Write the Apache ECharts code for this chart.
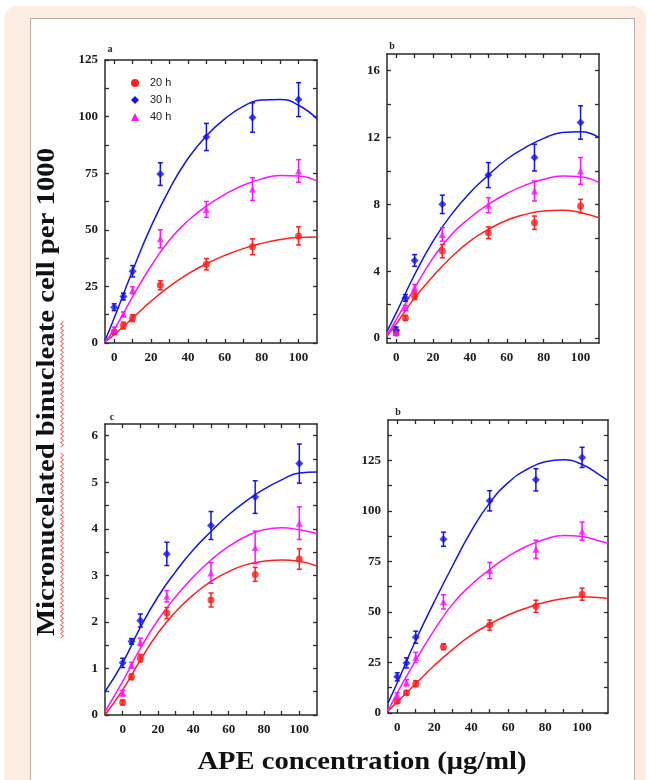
<!DOCTYPE html>
<html>
<head>
<meta charset="utf-8">
<script src="https://cdn.jsdelivr.net/npm/echarts@6/dist/echarts.min.js"></script>
<style>
  html, body { margin: 0; padding: 0; background: #fff; }
  #frame { position: absolute; left: 4px; top: 6px; width: 642px; height: 800px; background: #fcece2; border-radius: 14px; }
  #card { position: absolute; left: 30px; top: 18px; width: 603px; height: 800px; background: #fff; border: 1px solid #b8aea6; }
  #chart { position: absolute; left: 0; top: 0; width: 649px; height: 780px; }
</style>
</head>
<body>
<div id="frame"></div>
<div id="card"></div>
<div id="chart"></div>
<script>
const doses = [0, 5, 10, 25, 50, 75, 100];
const seriesNames = ['20 h', '30 h', '40 h'];
const xTickValues = [0, 10, 20, 30, 40, 50, 60, 70, 80, 90, 100];
const xLabelValues = [0, 20, 40, 60, 80, 100];

// panel a
const aMean20 = [4.9, 7.7, 11, 25.5, 34.8, 42.5, 47.3];
const aMean30 = [15.8, 20.5, 31.7, 74.6, 91, 99.6, 107.5];
const aMean40 = [6, 12.7, 23.3, 46, 59, 68, 76];
const aErr20 = [1, 1.5, 1.5, 2, 2.5, 3.5, 4];
const aErr30 = [1.5, 1.5, 2.5, 5, 6, 6.5, 7.5];
const aErr40 = [1, 1, 1.5, 4, 3.5, 5, 5];
const aFitX = [-5, 0, 10, 20, 30, 40, 50, 60, 70, 80, 90, 100, 110];
const aFit20 = [0.5, 3.7, 11, 18.5, 25, 30.5, 35, 38.7, 41.7, 44, 45.7, 46.6, 46.8];
const aFit30 = [1, 11, 32, 51.5, 68, 81.5, 91.5, 99, 104.5, 107.3, 107.6, 105, 99];
const aFit40 = [0.5, 6, 20.5, 34, 45.5, 54, 60.5, 65.6, 69.7, 72.5, 74, 73.8, 71.5];
const aYLabels = [0, 25, 50, 75, 100, 125];
const aYTicks = [0, 12.5, 25, 37.5, 50, 62.5, 75, 87.5, 100, 112.5, 125];

// panel b
const bMean20 = [0.3, 1.2, 2.5, 5.2, 6.3, 6.9, 7.9];
const bMean30 = [0.46, 2.4, 4.64, 8.0, 9.75, 10.8, 12.9];
const bMean40 = [0.35, 1.8, 3.0, 6.2, 7.95, 8.8, 10.0];
const bErr20 = [0.15, 0.15, 0.2, 0.4, 0.35, 0.4, 0.4];
const bErr30 = [0.2, 0.2, 0.35, 0.55, 0.75, 0.8, 1.0];
const bErr40 = [0.15, 0.15, 0.2, 0.4, 0.45, 0.6, 0.8];
const bFitX = [-5, 0, 10, 20, 30, 40, 50, 60, 70, 80, 90, 100, 110];
const bFit20 = [0.1, 0.85, 2.4, 3.7, 4.85, 5.8, 6.5, 7.05, 7.4, 7.6, 7.65, 7.5, 7.2];
const bFit30 = [0.4, 1.5, 3.8, 5.8, 7.4, 8.7, 9.75, 10.7, 11.4, 11.95, 12.3, 12.35, 12.0];
const bFit40 = [0.15, 1.1, 3.0, 4.8, 6.2, 7.2, 8.0, 8.65, 9.15, 9.5, 9.7, 9.65, 9.3];
const bYLabels = [0, 4, 8, 12, 16];
const bYTicks = [0, 2, 4, 6, 8, 10, 12, 14, 16];

// panel c
const cMean20 = [0.27, 0.82, 1.22, 2.19, 2.47, 3.02, 3.35];
const cMean30 = [1.12, 1.58, 2.03, 3.46, 4.07, 4.68, 5.4];
const cMean40 = [0.47, 1.07, 1.57, 2.55, 3.05, 3.6, 4.12];
const cErr20 = [0.05, 0.06, 0.08, 0.12, 0.15, 0.15, 0.22];
const cErr30 = [0.1, 0.06, 0.14, 0.25, 0.3, 0.35, 0.42];
const cErr40 = [0.06, 0.06, 0.08, 0.12, 0.22, 0.35, 0.35];
const cFitX = [-10, 0, 10, 20, 30, 40, 50, 60, 70, 80, 90, 100, 110];
const cFit20 = [0.0, 0.54, 1.18, 1.76, 2.22, 2.58, 2.87, 3.08, 3.23, 3.3, 3.33, 3.3, 3.2];
const cFit30 = [0.5, 1.12, 1.88, 2.54, 3.08, 3.55, 3.94, 4.3, 4.6, 4.85, 5.05, 5.2, 5.22];
const cFit40 = [0.07, 0.72, 1.43, 2.04, 2.54, 2.97, 3.33, 3.62, 3.84, 3.98, 4.02, 3.98, 3.9];
const cYLabels = [0, 1, 2, 3, 4, 5, 6];
const cYTicks = [0, 0.5, 1, 1.5, 2, 2.5, 3, 3.5, 4, 4.5, 5, 5.5, 6];

// panel d
const dMean20 = [5.8, 10, 14.5, 32.8, 43.5, 52.8, 58.8];
const dMean30 = [17.9, 24.8, 37.5, 86, 105, 115.4, 126.5];
const dMean40 = [8.5, 15, 27.5, 55, 70.5, 81, 90];
const dErr20 = [1, 1, 1.5, 1.5, 2.5, 3, 3];
const dErr30 = [2, 2.5, 3, 3.5, 5, 5.5, 5];
const dErr40 = [1.5, 1.5, 2.5, 3.5, 4, 4.5, 4.5];
const dFitX = [-5, 0, 10, 20, 30, 40, 50, 60, 70, 80, 90, 100, 110, 114];
const dFit20 = [1, 5.5, 14.5, 23.5, 31.5, 38.5, 44, 48.5, 52, 54.8, 56.6, 57.5, 57, 56.6];
const dFit30 = [5, 15, 36, 55, 73, 90, 104, 114, 120.5, 124.3, 125.3, 123, 117.5, 115];
const dFit40 = [1, 10, 26, 41, 54, 63.5, 71, 77.5, 82.5, 86, 87.8, 87.3, 85, 84];
const dYLabels = [0, 25, 50, 75, 100, 125];
const dYTicks = [0, 12.5, 25, 37.5, 50, 62.5, 75, 87.5, 100, 112.5, 125, 137.5];

const colors = ['#ff1f1f', '#1414e6', '#ff14ff'];
const symbols = ['circle', 'diamond', 'triangle'];
const symbolSizes = [7, 8, 7];
const labelFont = 'Liberation Serif';
const axisColor = '#2a2a2a';

const panels = [
  { label: 'a', labelPos: [110, 49], grid: { left: 105, top: 60, width: 212, height: 283 },
    xMin: -5, xMax: 110, yMin: 0, yMax: 125, yLabels: aYLabels, yTicks: aYTicks, fitX: aFitX,
    means: [aMean20, aMean30, aMean40], errs: [aErr20, aErr30, aErr40], fits: [aFit20, aFit30, aFit40] },
  { label: 'b', labelPos: [392, 46], grid: { left: 387, top: 54, width: 212, height: 289 },
    xMin: -5, xMax: 110, yMin: -0.3, yMax: 17, yLabels: bYLabels, yTicks: bYTicks, fitX: bFitX,
    means: [bMean20, bMean30, bMean40], errs: [bErr20, bErr30, bErr40], fits: [bFit20, bFit30, bFit40] },
  { label: 'c', labelPos: [112, 417], grid: { left: 105, top: 424, width: 212, height: 291 },
    xMin: -10, xMax: 110, yMin: 0, yMax: 6.25, yLabels: cYLabels, yTicks: cYTicks, fitX: cFitX,
    means: [cMean20, cMean30, cMean40], errs: [cErr20, cErr30, cErr40], fits: [cFit20, cFit30, cFit40] },
  { label: 'b', labelPos: [398, 412], grid: { left: 388, top: 420, width: 220, height: 293 },
    xMin: -5, xMax: 114, yMin: 0, yMax: 145, yLabels: dYLabels, yTicks: dYTicks, fitX: dFitX,
    means: [dMean20, dMean30, dMean40], errs: [dErr20, dErr30, dErr40], fits: [dFit20, dFit30, dFit40] }
];

function makeAxis(p, idx, dim, position, withLabels) {
  const isX = dim === 'x';
  return {
    type: 'value',
    gridIndex: idx,
    position,
    min: isX ? p.xMin : p.yMin,
    max: isX ? p.xMax : p.yMax,
    axisLine: { show: true, onZero: false, lineStyle: { color: axisColor, width: 1.5 } },
    axisTick: { show: true, inside: true, length: 4, customValues: isX ? xTickValues : p.yTicks,
      lineStyle: { color: axisColor, width: 1.3 } },
    axisLabel: {
      show: withLabels,
      customValues: isX ? xLabelValues : p.yLabels,
      color: '#1a1a1a',
      fontFamily: labelFont,
      fontWeight: 'bold',
      fontSize: 13,
      margin: isX ? 8 : 7
    },
    splitLine: { show: false }
  };
}

function renderErrorBar(params, api) {
  const x = api.value(0);
  const y = api.value(1);
  const e = api.value(2);
  const hi = api.coord([x, y + e]);
  const lo = api.coord([x, y - e]);
  const w = 2.5;
  const style = { stroke: api.visual('color'), lineWidth: 1.5 };
  return {
    type: 'group',
    children: [
      { type: 'line', shape: { x1: hi[0], y1: hi[1], x2: lo[0], y2: lo[1] }, style },
      { type: 'line', shape: { x1: hi[0] - w, y1: hi[1], x2: hi[0] + w, y2: hi[1] }, style },
      { type: 'line', shape: { x1: lo[0] - w, y1: lo[1], x2: lo[0] + w, y2: lo[1] }, style }
    ]
  };
}

// red spell-check squiggle next to the rotated title
function squiggle(x, y0, y1) {
  const pts = [];
  let flip = 0;
  for (let y = y1; y >= y0; y -= 2.2) {
    pts.push([x + (flip ? 1.5 : -1.5), y]);
    flip = 1 - flip;
  }
  return { type: 'polyline', shape: { points: pts }, style: { stroke: '#ff4a4a', lineWidth: 1, fill: null } };
}

const grids = [], xAxes = [], yAxes = [], series = [];
const graphics = [];

panels.forEach((p, i) => {
  grids.push(p.grid);
  xAxes.push(makeAxis(p, i, 'x', 'bottom', true), makeAxis(p, i, 'x', 'top', false));
  yAxes.push(makeAxis(p, i, 'y', 'left', true), makeAxis(p, i, 'y', 'right', false));
  const xi = i * 2, yi = i * 2;

  for (let k = 0; k < 3; k++) {
    series.push({
      name: seriesNames[k] + ' fit',
      type: 'line',
      xAxisIndex: xi, yAxisIndex: yi,
      data: p.fitX.map((x, j) => [x, p.fits[k][j]]),
      smooth: true,
      showSymbol: false,
      lineStyle: { color: colors[k], width: 1.5 },
      itemStyle: { color: colors[k] },
      silent: true,
      z: 2
    });
  }
  for (let k = 0; k < 3; k++) {
    series.push({
      name: seriesNames[k],
      type: 'custom',
      xAxisIndex: xi, yAxisIndex: yi,
      renderItem: renderErrorBar,
      data: doses.map((x, j) => [x, p.means[k][j], p.errs[k][j]]),
      itemStyle: { color: colors[k] },
      z: 3
    });
    series.push({
      name: seriesNames[k],
      type: 'scatter',
      xAxisIndex: xi, yAxisIndex: yi,
      data: doses.map((x, j) => [x, p.means[k][j]]),
      symbol: symbols[k],
      symbolSize: symbolSizes[k],
      itemStyle: { color: colors[k] },
      z: 4
    });
  }

  graphics.push({
    type: 'text', x: p.labelPos[0], y: p.labelPos[1],
    style: { text: p.label, font: 'bold 10px "Liberation Serif"', fill: '#222', align: 'center', verticalAlign: 'middle' }
  });
});

graphics.push({
  type: 'text', x: 48, y: 392, rotation: Math.PI / 2, scaleX: 1.15,
  style: { text: 'Micronucelated binucleate cell per 1000', font: 'bold 25px "Liberation Serif"', fill: '#111',
    align: 'center', verticalAlign: 'middle' }
});
graphics.push(squiggle(62, 320, 447));
graphics.push(squiggle(62, 452, 638));
graphics.push({
  type: 'text', x: 362, y: 762, scaleX: 1.1,
  style: { text: 'APE concentration (μg/ml)', font: 'bold 26px "Liberation Serif"', fill: '#111',
    align: 'center', verticalAlign: 'middle' }
});

const chart = echarts.init(document.getElementById('chart'), null, { renderer: 'canvas' });
chart.setOption({
  backgroundColor: 'transparent',
  animation: false,
  grid: grids,
  xAxis: xAxes,
  yAxis: yAxes,
  legend: {
    data: [
      { name: '20 h', icon: 'circle' },
      { name: '30 h', icon: 'diamond' },
      { name: '40 h', icon: 'triangle' }
    ],
    orient: 'vertical',
    left: 126,
    top: 72,
    itemWidth: 8,
    itemHeight: 8,
    itemGap: 5,
    selectedMode: false,
    textStyle: { fontFamily: 'Liberation Sans', fontSize: 11, color: '#222', lineHeight: 12, padding: [0, 0, 0, 6] }
  },
  graphic: graphics,
  series
});
</script>
</body>
</html>
